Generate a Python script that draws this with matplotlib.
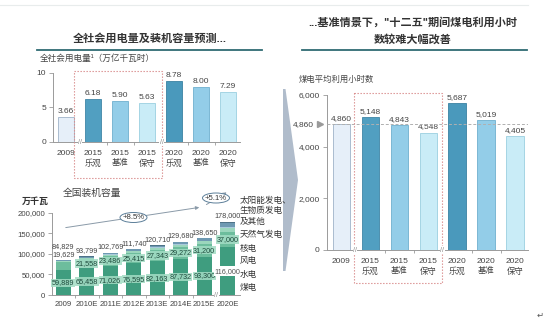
import matplotlib
matplotlib.use('Agg')
import matplotlib.pyplot as plt
from matplotlib.patches import Rectangle, Ellipse, Polygon, FancyArrowPatch
from matplotlib.ticker import FuncFormatter, FixedLocator
from matplotlib import font_manager
import numpy as np

plt.rcParams['font.family'] = ['Liberation Sans', 'Noto Sans CJK SC', 'DejaVu Sans']

# ---------------- data ----------------
scen_labels = ['2009', '2015\n乐观', '2015\n基准', '2015\n保守', '2020\n乐观', '2020\n基准', '2020\n保守']
elec_values = [3.66, 6.18, 5.90, 5.63, 8.78, 8.00, 7.29]
hours_values = [4860, 5148, 4843, 4548, 5687, 5019, 4405]
hours_ref = 4860

cap_years = ['2009', '2010E', '2011E', '2012E', '2013E', '2014E', '2015E', '2020E']
coal = [59889, 65458, 71026, 76595, 82163, 87732, 93300, 116000]
hydro = [19629, 21558, 23486, 25415, 27343, 29272, 31200, 37000]
wind = [1760, 2400, 3000, 3600, 4100, 4700, 5200, 9000]
nuclear = [908, 1100, 1300, 1500, 1800, 2100, 2400, 4000]
gas = [2400, 2800, 3300, 3800, 4400, 4900, 5300, 8500]
solar = [243, 483, 657, 830, 904, 976, 1250, 3500]
totals = [84829, 93799, 102769, 111740, 120710, 129680, 138650, 178000]
growth_labels = ['+8.5%', '+5.1%']
legend_labels = ['太阳能发电、\n生物质发电\n及其他', '天然气发电', '核电', '风电', '水电', '煤电']

W, H = 548, 324
fig = plt.figure(figsize=(W / 100, H / 100), dpi=100)
fig.patch.set_facecolor('white')

installed = {f.name for f in font_manager.fontManager.ttflist}
narrow = ['Liberation Sans Narrow'] if 'Liberation Sans Narrow' in installed else []
small_family = narrow + ['Liberation Sans', 'DejaVu Sans']
small_fs = 5.9 if narrow else 5.2


def ax_px(l, t, r, b):
    return fig.add_axes([l / W, 1 - b / H, (r - l) / W, (b - t) / H])


scen_colors = ['#e6eff9', '#519fc1', '#93cde8', '#c9ecf7', '#4a99bc', '#93cde8', '#c9ecf7']
scen_edges = ['#9fb3c8', '#3f86a6', '#6fb0cf', '#9bcfe0', '#3a82a2', '#6fb0cf', '#9bcfe0']
gray = '#9a9a9a'
txt = '#444444'


def style_axes(ax):
    for s in ['top', 'right']:
        ax.spines[s].set_visible(False)
    for s in ['left', 'bottom']:
        ax.spines[s].set_color(gray)
        ax.spines[s].set_linewidth(0.7)
    ax.tick_params(axis='y', length=3, width=0.6, color=gray, labelsize=6, labelcolor=txt, pad=2)
    ax.tick_params(axis='x', which='major', length=0, labelsize=6, labelcolor=txt)
    ax.tick_params(axis='x', which='minor', length=2, width=0.6, color=gray)
    ax.set_facecolor('none')


# ---------------- top-left: electricity ----------------
ax1 = ax_px(53, 73, 240, 142)
x1 = np.arange(len(elec_values))
ax1.bar(x1, elec_values, width=0.6, color=scen_colors, edgecolor=scen_edges, linewidth=0.6)
for xi, v in zip(x1, elec_values):
    ax1.annotate(f'{v:.2f}', (xi, v), xytext=(0, 1.5), textcoords='offset points',
                 ha='center', va='bottom', fontsize=6, color=txt)
ax1.set_xlim(-0.48, 6.44)
ax1.set_ylim(0, 10)
ax1.set_yticks([0, 5, 10])
ax1.set_xticks(x1)
ax1.set_xticklabels(scen_labels, linespacing=1.3)
ax1.xaxis.set_minor_locator(FixedLocator(x1[:-1] + 0.5))
style_axes(ax1)
ax1.tick_params(axis='x', which='major', pad=6)

# ---------------- right: utilisation hours ----------------
ax2 = ax_px(326.7, 95, 528, 250)
x2 = np.arange(len(hours_values))
ax2.bar(x2, hours_values, width=0.6, color=scen_colors, edgecolor=scen_edges, linewidth=0.6, zorder=2)
for xi, v in zip(x2, hours_values):
    ax2.annotate(f'{v:,}', (xi, v), xytext=(0, 1.5), textcoords='offset points',
                 ha='center', va='bottom', fontsize=6, color=txt)
ax2.axhline(hours_ref, color='#b0b0b0', lw=0.7, ls=(0, (3, 2)), zorder=3)
ax2.set_xlim(-0.51, 6.45)
ax2.set_ylim(0, 6000)
ax2.set_yticks([0, 2000, 4000, 6000])
ax2.yaxis.set_major_formatter(FuncFormatter(lambda v, p: f'{int(v):,}'))
ax2.set_xticks(x2)
ax2.set_xticklabels(scen_labels, linespacing=1.3)
ax2.xaxis.set_minor_locator(FixedLocator(x2[:-1] + 0.5))
style_axes(ax2)
ax2.tick_params(axis='x', which='major', pad=6)
ax2.plot([-0.75], [hours_ref], marker='>', color='#9a9a9a', markersize=4, clip_on=False)
ax2.text(-0.95, hours_ref, f'{hours_ref:,}', ha='right', va='center', fontsize=6, color=txt)

# ---------------- bottom-left: capacity ----------------
ax3 = ax_px(52, 212.5, 240, 295)
x3 = np.arange(len(cap_years))
layers = [coal, hydro, wind, nuclear, gas, solar]
layer_colors = ['#3f9d7f', '#6dbd9d', '#9bd6bd', '#a9cadb', '#6e99b2', '#4f7388']
bottom = np.zeros(len(x3))
for vals, c in zip(layers, layer_colors):
    ax3.bar(x3, vals, bottom=bottom, width=0.63, color=c, edgecolor='none', zorder=2)
    bottom = bottom + np.array(vals)

lab_box = dict(boxstyle='square,pad=0.08', facecolor='#a3dcc4', edgecolor='none', alpha=0.85)
lkw = dict(ha='center', fontsize=small_fs, family=small_family)
for i in range(len(x3)):
    if i == len(x3) - 1:
        ax3.text(x3[i], coal[i] / 2, f'{coal[i]:,}', va='center', color='#555555', zorder=4,
                 bbox=dict(boxstyle='square,pad=0.15', facecolor='white', edgecolor='none'), **lkw)
    else:
        ax3.text(x3[i], coal[i] / 2, f'{coal[i]:,}', va='center', color='#1d4a3c', zorder=4,
                 bbox=lab_box, **lkw)
    if i == 0:
        ax3.annotate(f'{hydro[i]:,}', (x3[i], totals[i]), xytext=(0, 1.5), textcoords='offset points',
                     va='bottom', color=txt, **lkw)
        ax3.annotate(f'{totals[i]:,}', (x3[i], totals[i]), xytext=(0, 7.5), textcoords='offset points',
                     va='bottom', color=txt, **lkw)
    else:
        ax3.text(x3[i], coal[i] + hydro[i] / 2, f'{hydro[i]:,}', va='center', color='#1d4a3c', zorder=4,
                 bbox=lab_box, **lkw)
        ax3.annotate(f'{totals[i]:,}', (x3[i], totals[i]), xytext=(0, 1.5), textcoords='offset points',
                     va='bottom', color=txt, **lkw)

ax3.set_xlim(-0.48, 7.52)
ax3.set_ylim(0, 200000)
ax3.set_yticks([0, 50000, 100000, 150000, 200000])
ax3.yaxis.set_major_formatter(FuncFormatter(lambda v, p: f'{int(v):,}'))
ax3.set_xticks(x3)
ax3.set_xticklabels(cap_years)
ax3.xaxis.set_minor_locator(FixedLocator(x3[:-1] + 0.5))
style_axes(ax3)
ax3.tick_params(axis='y', labelsize=5.6)
ax3.tick_params(axis='x', which='major', labelsize=5.6, pad=4)

# ---------------- overlay (pixel coords) ----------------
ov = fig.add_axes([0, 0, 1, 1], zorder=10)
ov.set_xlim(0, W)
ov.set_ylim(H, 0)
ov.axis('off')
ov.patch.set_alpha(0)

ov.plot([0, 528], [5, 5], color='#e8ecec', lw=0.8)

ov.text(150, 38, '全社会用电量及装机容量预测...', ha='center', va='center', fontsize=8,
        fontweight='bold', color='#333333')
ov.plot([37, 262], [50, 50], color='#2f6b73', lw=1.3)
ov.text(413, 22.5, '...基准情景下，"十二五"期间煤电利用小时', ha='center', va='center', fontsize=8,
        fontweight='bold', color='#333333')
ov.text(413, 39, '数较难大幅改善', ha='center', va='center', fontsize=8,
        fontweight='bold', color='#333333')
ov.plot([302, 527], [50, 50], color='#2f6b73', lw=1.3)

ov.text(40, 58, '全社会用电量¹（万亿千瓦时）', ha='left', va='center', fontsize=6.2, color=txt)
ov.text(299, 80, '煤电平均利用小时数', ha='left', va='center', fontsize=6, color=txt)
ov.text(22, 201, '万千瓦', ha='left', va='center', fontsize=6.5, fontweight='bold', color='#333333')
ov.text(63, 193, '全国装机容量', ha='left', va='center', fontsize=7, color=txt)

ov.add_patch(Rectangle((74, 71), 88, 107, fill=False, ls=(0, (1.2, 1.5)), lw=0.8, ec='#d98c8c'))
ov.add_patch(Rectangle((354.3, 93), 88, 190, fill=False, ls=(0, (1.2, 1.5)), lw=0.8, ec='#d98c8c'))

for bx, by in [(80, 142), (161.5, 142), (355, 250), (442.3, 250), (216.5, 295.5)]:
    ov.text(bx, by, '//', ha='center', va='center', fontsize=5, color='#888888',
            bbox=dict(boxstyle='square,pad=0.05', facecolor='white', edgecolor='none'))

# big chevron arrow
ov.add_patch(Polygon([(283, 89), (285.5, 89), (298, 180), (285.5, 271), (283, 271)],
                     closed=True, facecolor='#b0bccb', edgecolor='none'))

ov.add_patch(FancyArrowPatch((63, 228), (202, 207), arrowstyle='-|>', mutation_scale=5,
                             color='#8a9aa8', lw=0.7))
ov.add_patch(FancyArrowPatch((204, 206), (229, 191), arrowstyle='-|>', mutation_scale=5,
                             color='#8a9aa8', lw=0.7))
for (cx, cy), lab in zip([(133.5, 217.5), (216, 198)], growth_labels):
    ov.add_patch(Ellipse((cx, cy), 27, 10, facecolor='white', edgecolor='#5c7f99', lw=0.7))
    ov.text(cx, cy, lab, ha='center', va='center', fontsize=5.6, color='#333333')

leg_y = [211, 235, 248.5, 260.5, 274, 287.5]
for y, lab in zip(leg_y, legend_labels):
    ov.text(240, y, lab, ha='left', va='center', fontsize=6.2, color='#333333', linespacing=1.25)

ov.text(540, 315, '↵', ha='center', va='center', fontsize=6, color='#555555',
        family=['DejaVu Sans'])

fig.savefig('out.png', dpi=100, facecolor='white')
